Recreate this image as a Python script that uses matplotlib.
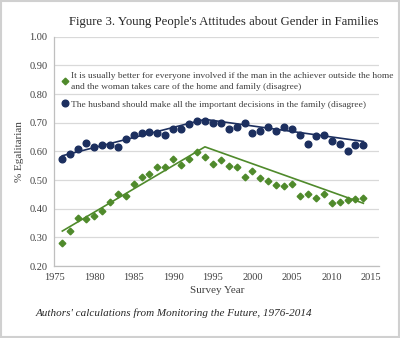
import numpy as np
import matplotlib.pyplot as plt
from matplotlib.patches import Rectangle

years = np.arange(1976, 2015)

# disagree: "the husband should make all the important decisions"
husband = [0.573, 0.590, 0.608, 0.631, 0.615, 0.621, 0.623, 0.616, 0.645, 0.657,
           0.663, 0.669, 0.665, 0.658, 0.679, 0.677, 0.695, 0.705, 0.707, 0.700,
           0.700, 0.678, 0.687, 0.700, 0.665, 0.671, 0.685, 0.672, 0.685, 0.679,
           0.658, 0.626, 0.654, 0.658, 0.635, 0.626, 0.600, 0.622, 0.624]

# disagree: "better if the man is the achiever outside the home"
achiever = [0.279, 0.321, 0.366, 0.364, 0.375, 0.391, 0.422, 0.450, 0.443, 0.486,
            0.509, 0.520, 0.545, 0.547, 0.572, 0.552, 0.573, 0.598, 0.581, 0.556,
            0.569, 0.550, 0.545, 0.509, 0.532, 0.508, 0.496, 0.483, 0.480, 0.486,
            0.444, 0.450, 0.439, 0.451, 0.420, 0.425, 0.429, 0.434, 0.436]

# piecewise trend fits (break at 1994)
trend_years = [1976, 1994, 2014]
husband_trend = [0.585, 0.712, 0.635]
achiever_trend = [0.322, 0.616, 0.419]

navy = '#1c2f5f'
green = '#4f8a2b'
serif = 'Liberation Serif'

plt.rcParams['font.family'] = serif

fig = plt.figure(figsize=(4.0, 3.38), dpi=100)
ax = fig.add_axes([0.136, 0.213, 0.812, 0.678])

ax.plot(trend_years, achiever_trend, color=green, lw=1.2, zorder=2)
ax.plot(trend_years, husband_trend, color=navy, lw=1.2, zorder=2)
ax.plot(years, achiever, 'D', color=green, ms=3.4, mec=green, zorder=3,
        label='It is usually better for everyone involved if the man in the achiever outside the home\n'
              'and the woman takes care of the home and family (disagree)')
ax.plot(years, husband, 'o', color=navy, ms=4.8, zorder=3,
        label='The husband should make all the important decisions in the family (disagree)')

ax.set_xlim(1975, 2016)
ax.set_ylim(0.2, 1.0)
ax.set_xticks(np.arange(1975, 2016, 5))
ax.set_yticks(np.arange(0.2, 1.01, 0.1))
ax.yaxis.set_major_formatter(plt.FuncFormatter(lambda v, p: f'{v:.2f}'))
ax.tick_params(length=0, labelsize=7.5, colors='#404040', pad=5)
ax.grid(axis='y', color='#d9d9d9', lw=0.9)
ax.set_axisbelow(True)
for s in ['top', 'right']:
    ax.spines[s].set_visible(False)
for s in ['left', 'bottom']:
    ax.spines[s].set_color('#bfbfbf')
    ax.spines[s].set_linewidth(0.9)

ax.set_xlabel('Survey Year', fontsize=8, color='#404040', labelpad=3)
ax.set_ylabel('% Egalitarian', fontsize=8, color='#404040', labelpad=4)

leg = ax.legend(loc='upper left', bbox_to_anchor=(0.012, 0.863), frameon=False,
                fontsize=6.8, handlelength=0.6, handletextpad=0.3,
                labelspacing=1.0, borderaxespad=0)
for t in leg.get_texts():
    t.set_color('#404040')
    t.set_linespacing(1.45)

fig.text(0.56, 0.935, "Figure 3. Young People's Attitudes about Gender in Families",
         ha='center', va='center', fontsize=9.2, color='#262626')
fig.text(0.09, 0.073, "Authors' calculations from Monitoring the Future, 1976-2014",
         ha='left', va='center', fontsize=8, style='italic', color='#262626')

fig.patches.append(Rectangle((0.003, 0.004), 0.994, 0.992, transform=fig.transFigure,
                             fill=False, edgecolor='#d0d0d0', lw=1.5))

fig.savefig('out.png', dpi=100)
